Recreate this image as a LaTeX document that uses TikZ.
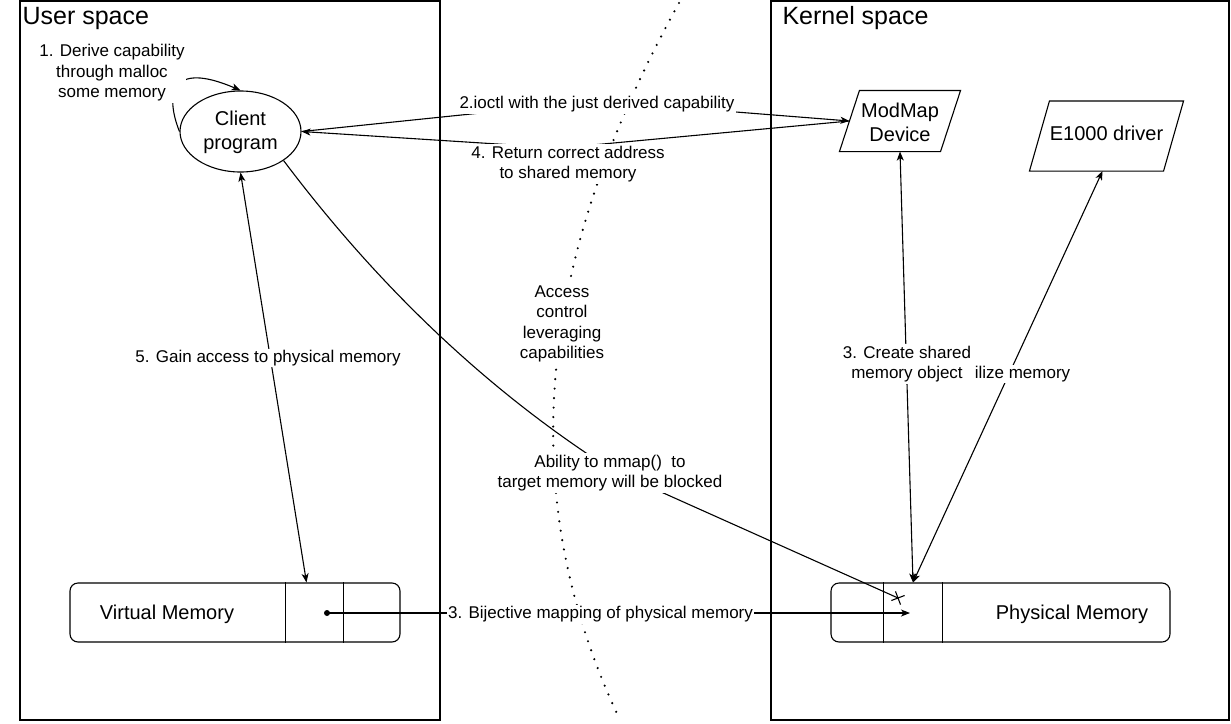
\documentclass[tikz,border=0pt]{standalone}
\usepackage{fontspec}
\setmainfont{Liberation Sans}
\usetikzlibrary{arrows.meta,shapes,positioning,calc,decorations.markings}

\newcommand{\nodefont}{\fontsize{20}{24}\selectfont}
\newcommand{\lblfont}{\fontsize{17}{20.5}\selectfont}
\newcommand{\titlefont}{\fontsize{25}{30}\selectfont}

\begin{document}
\begin{tikzpicture}[
    x=1pt,y=-1pt,
    line width=1.1pt,
    >={Stealth[length=9pt,width=7pt,inset=2.5pt]},
    space/.style={rectangle,draw,minimum width=#1,minimum height=719pt,inner sep=0pt},
    title/.style={font=\titlefont,anchor=west,inner sep=2pt},
    para/.style={rectangle,inner sep=0pt,font=\nodefont,align=center},
    mem/.style={rectangle,draw,rounded corners=8pt,minimum height=59pt,inner sep=0pt},
    cell/.style={rectangle,minimum height=59pt,inner sep=0pt},
    memtext/.style={font=\nodefont,inner sep=0pt},
    lbl/.style={fill=white,font=\lblfont,align=center,inner sep=1.5pt},
    arrow/.style={->},
    dblarrow/.style={<->},
    barrier/.style={line width=2.4pt,line cap=round,dash pattern=on 0pt off 9.5pt},
    blocked/.style={postaction={decorate},decoration={markings,mark=at position 1 with {\draw[line width=1.1pt] (-5pt,-5pt) -- (5pt,5pt) (-5pt,5pt) -- (5pt,-5pt);}}}
]
    \useasboundingbox (0,0) rectangle (1231,723);

    % Spaces
    \node[space=420pt] (user) at (230,360.5) {};
    \node[space=458pt] (kernel) at (1000,360.5) {};
    \node[title] (usertitle) at (20,18.5) {User space};
    \node[title] (kerneltitle) at (780,18.5) {Kernel space};

    % Access control barrier
    \draw[barrier] (679,3) .. controls (520,290) and (525,520) .. (620,720);

    % Components
    \node[ellipse,draw,minimum width=121pt,minimum height=81pt,inner sep=0pt,font=\nodefont,align=center] (client) at (240.5,131.5) {\strut Client\\program};
    \node[para,minimum width=100pt,minimum height=60pt] (modmap) at (900,121) {\strut ModMap\\Device};
    \node[para,minimum width=133pt,minimum height=69pt] (e1000) at (1106.5,136) {\strut E1000 driver};
    \foreach \p in {modmap,e1000}
        \draw ([xshift=10pt]\p.north west) -- ([xshift=10pt]\p.north east) -- ([xshift=-10pt]\p.south east) -- ([xshift=-10pt]\p.south west) -- cycle;

    \node[mem,minimum width=330pt] (vm) at (235,612.5) {};
    \node[cell,minimum width=57pt] (vcell) at (314.5,612.5) {};
    \draw (vcell.north west) -- (vcell.south west) (vcell.north east) -- (vcell.south east);
    \node[memtext] (vmtext) at (167,614) {Virtual Memory};
    \node[mem,minimum width=339pt] (pm) at (1000.5,612.5) {};
    \node[cell,minimum width=58pt] (pcell) at (913,612.5) {};
    \draw (pcell.north west) -- (pcell.south west) (pcell.north east) -- (pcell.south east);
    \node[memtext] (pmtext) at (1072,614) {Physical Memory};

    \coordinate (vdot) at (327,613);
    \coordinate (ptip) at (910,613);
    \coordinate (pblock) at (898,598);
    \coordinate (w2) at (597,101);
    \coordinate (w4) at (560,148);
    \coordinate (wmm) at (612,470);

    % Connectors
    \draw[arrow] (client.west) .. controls (165,95) and (170,60) .. (client.north);
    \draw[arrow] (client.east) -- (w2) -- (modmap.west);
    \draw[arrow] (modmap.west) -- (w4) -- (client.east);
    \draw[dblarrow] (client.south) -- ([xshift=-8pt]vcell.north);
    \draw[dblarrow] (modmap.south) -- (pcell.north);
    \draw[dblarrow] ([xshift=-4pt]e1000.south) -- (pcell.north);
    \fill (vdot) circle (3pt);
    \draw[arrow] (vdot) -- (ptip);
    \draw[blocked] (client.-34) .. controls (381,290) and (491,393) .. (wmm) -- (pblock);

    % Labels
    \node[lbl] (lbl1) at (112,73) {1. Derive capability\\through malloc\\some memory};
    \node[lbl] (lbl2) at (597,104.5) {2.ioctl with the just derived capability};
    \node[lbl] (lbl4) at (568,164) {4. Return correct address\\to shared memory};
    \node[lbl] (lblac) at (562,324) {Access\\control\\leveraging\\capabilities};
    \node[lbl] (lbl5) at (268,358) {5. Gain access to physical memory};
    \node[lbl] (lblu) at (1022.5,374) {ilize memory};
    \node[lbl] (lbl3) at (907,364) {3. Create shared\\memory object};
    \node[lbl] (lblmm) at (610,473) {Ability to mmap()\ \ to\\target memory will be blocked};
    \node[lbl] (lblbij) at (600.5,614.5) {3. Bijective mapping of physical memory};
\end{tikzpicture}
\end{document}
